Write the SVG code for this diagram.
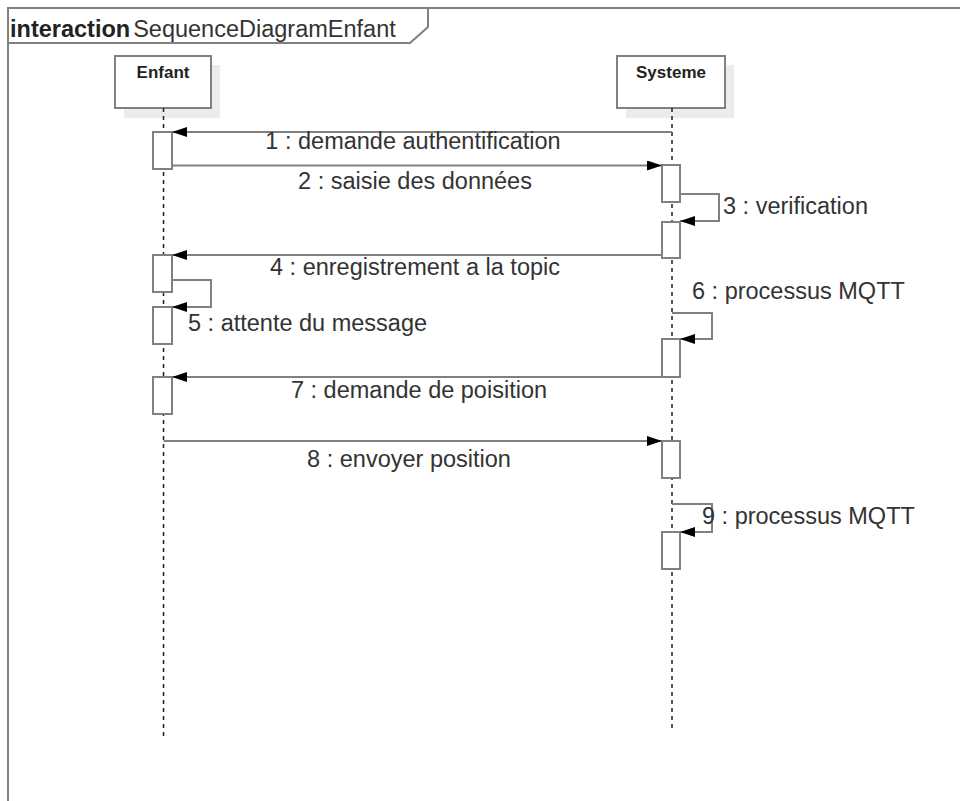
<svg xmlns="http://www.w3.org/2000/svg" width="960" height="801" viewBox="0 0 960 801">
<style>
.frame{fill:none;stroke:#808080;stroke-width:2}
.box{fill:#fff;stroke:#808080;stroke-width:2}
.shadow{fill:#ececec;stroke:none}
.life{stroke:#222;stroke-width:1.5;stroke-dasharray:4 4;fill:none}
.act{fill:#fff;stroke:#808080;stroke-width:2}
.msg{fill:none;stroke:#808080;stroke-width:2}
.lbl{font-family:"Liberation Sans",Arial,sans-serif;font-size:23.5px;fill:#333}
.name{font-family:"Liberation Sans",Arial,sans-serif;font-size:17px;font-weight:bold;fill:#222;text-anchor:middle}
</style>
<defs>
<marker id="ah" markerUnits="userSpaceOnUse" markerWidth="16" markerHeight="12" refX="15" refY="5" orient="auto">
<path d="M0,0 L15,5 L0,10 z" fill="#000"/>
</marker>
</defs>
<rect width="960" height="801" fill="#fff"/>
<g id="frame">
<path class="frame" d="M8,810 L8,8 L970,8"/>
<path class="frame" d="M8,43 L410,43 L428,27 L428,8"/>
<text x="10" y="37" font-family="Liberation Sans,Arial,sans-serif" font-size="23.5" fill="#222"><tspan font-weight="bold">interaction</tspan><tspan dx="3" fill="#333">SequenceDiagramEnfant</tspan></text>
</g>
<g id="enfant">
<rect class="shadow" x="124" y="65" width="96" height="53"/>
<rect class="box" x="115" y="56" width="96" height="52"/>
<text class="name" x="163" y="78">Enfant</text>
<line class="life" x1="163.5" y1="108" x2="163.5" y2="740"/>
<rect class="act" x="153" y="132" width="19" height="37"/>
<rect class="act" x="153" y="255" width="19" height="37"/>
<rect class="act" x="153" y="307" width="19" height="37"/>
<rect class="act" x="153" y="377" width="19" height="37"/>
</g>
<g id="systeme">
<rect class="shadow" x="626" y="65" width="108" height="53"/>
<rect class="box" x="617" y="56" width="108" height="52"/>
<text class="name" x="671" y="78">Systeme</text>
<line class="life" x1="672" y1="108" x2="672" y2="730"/>
<rect class="act" x="662" y="165" width="18" height="37"/>
<rect class="act" x="662" y="222" width="18" height="36"/>
<rect class="act" x="662" y="339" width="18" height="38"/>
<rect class="act" x="662" y="441" width="18" height="37"/>
<rect class="act" x="662" y="532" width="18" height="37"/>
</g>
<g id="connectors">
<line class="msg" x1="672" y1="132" x2="172" y2="132" marker-end="url(#ah)"/>
<line class="msg" x1="172" y1="165.5" x2="662" y2="165.5" marker-end="url(#ah)"/>
<polyline class="msg" points="680,194 719,194 719,221 680,221" marker-end="url(#ah)"/>
<line class="msg" x1="662" y1="255" x2="172" y2="255" marker-end="url(#ah)"/>
<polyline class="msg" points="172,280 211,280 211,307 172,307" marker-end="url(#ah)"/>
<polyline class="msg" points="672,313 712,313 712,339 680,339" marker-end="url(#ah)"/>
<line class="msg" x1="662" y1="377" x2="172" y2="377" marker-end="url(#ah)"/>
<line class="msg" x1="163.5" y1="441" x2="662" y2="441" marker-end="url(#ah)"/>
<polyline class="msg" points="672,504 712,504 712,532 680,532" marker-end="url(#ah)"/>
</g>
<g id="labels">
<text class="lbl" x="413" y="149" text-anchor="middle">1 : demande authentification</text>
<text class="lbl" x="415" y="189" text-anchor="middle">2 : saisie des données</text>
<text class="lbl" x="723" y="214">3 : verification</text>
<text class="lbl" x="415" y="275" text-anchor="middle">4 : enregistrement a la topic</text>
<text class="lbl" x="188" y="331">5 : attente du message</text>
<text class="lbl" x="692" y="299">6 : processus MQTT</text>
<text class="lbl" x="419" y="398" text-anchor="middle">7 : demande de poisition</text>
<text class="lbl" x="409" y="467" text-anchor="middle">8 : envoyer position</text>
<text class="lbl" x="702" y="524">9 : processus MQTT</text>
</g>
</svg>
